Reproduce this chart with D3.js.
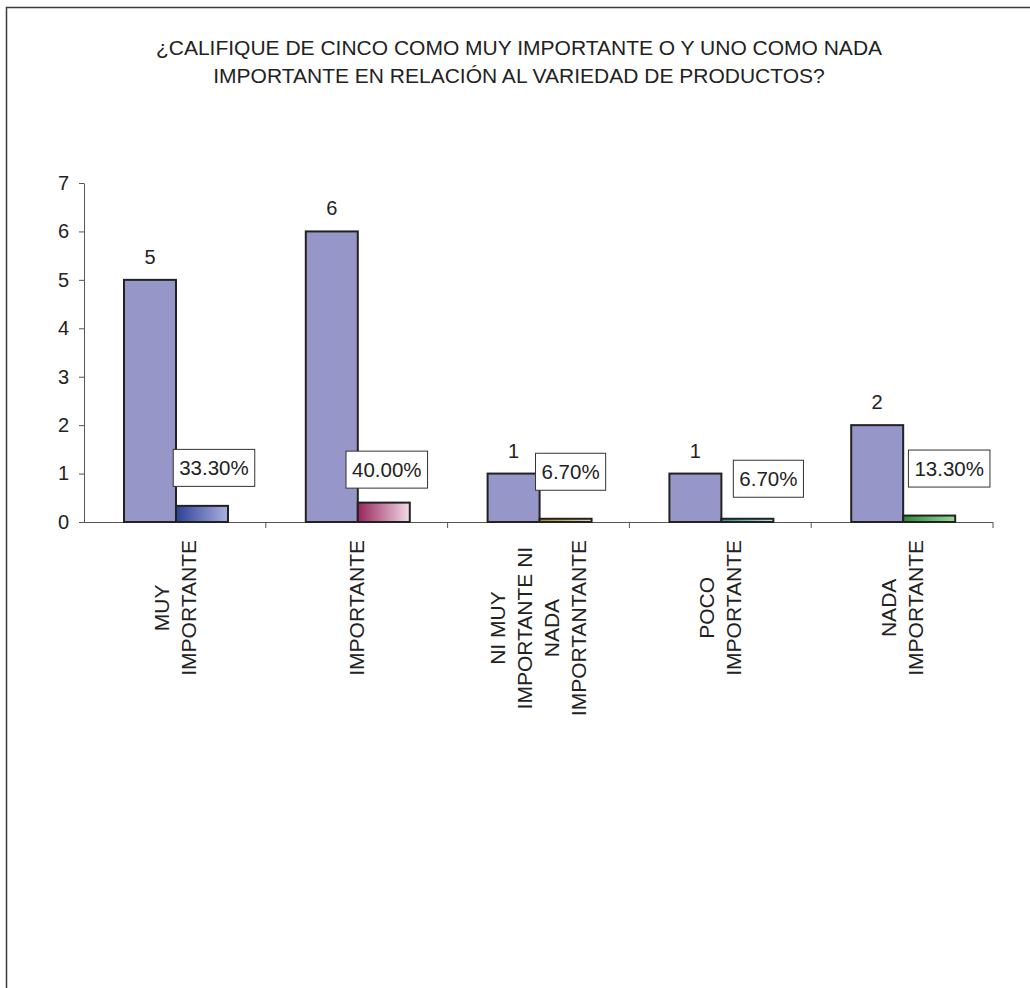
<!DOCTYPE html>
<html><head><meta charset="utf-8">
<script src="https://cdn.jsdelivr.net/npm/d3@7/dist/d3.min.js"></script>
<style>html,body{margin:0;padding:0;background:#fff;}svg{display:block;}</style>
</head><body>
<script>
const titleLines = ["¿CALIFIQUE DE CINCO COMO MUY IMPORTANTE O Y UNO COMO NADA",
                    "IMPORTANTE EN RELACIÓN AL VARIEDAD DE PRODUCTOS?"];
const categories = ["MUY IMPORTANTE","IMPORTANTE","NI MUY IMPORTANTE NI NADA IMPORTANTANTE","POCO IMPORTANTE","NADA IMPORTANTE"];
const categoryLabelLines = [["MUY","IMPORTANTE"],["IMPORTANTE"],["NI MUY","IMPORTANTE NI","NADA","IMPORTANTANTE"],["POCO","IMPORTANTE"],["NADA","IMPORTANTE"]];
const counts = [5, 6, 1, 1, 2];
const shares = [0.333, 0.40, 0.067, 0.067, 0.133];
const shareLabels = ["33.30%","40.00%","6.70%","6.70%","13.30%"];
const yTicks = [0,1,2,3,4,5,6,7];
// styling (not data)
const shareGradients = [["#2f4196","#aab0e0"],["#98245a","#f2dce8"],["#b08a2a","#e8d8a0"],["#2f8f98","#b8e4e8"],["#2a8a3a","#98d898"]];
const shareLabelShift = [[12,-38],[3,-33],[5,-47],[21,-40],[20,-47]];

const W = 1030, H = 988;
const svg = d3.select("body").append("svg").attr("width", W).attr("height", H);
const font = "'Liberation Sans', Arial, sans-serif";

// frame
svg.append("path").attr("d", `M6.5,${H} L6.5,7.5 L${W},7.5`).attr("fill","none").attr("stroke","#3a3a3a").attr("stroke-width",1.5);

// title
svg.append("g").selectAll("text").data(titleLines).join("text")
  .attr("x", 519).attr("y", (d,i)=>55 + i*28)
  .attr("text-anchor","middle").attr("font-family",font).attr("font-size",21).attr("fill","#222")
  .text(d=>d);

const x0 = d3.scaleBand().domain(categories).range([84, 993]).padding(0);
const bw = x0.bandwidth();
const x1 = d3.scaleBand().domain([0,1]).range([bw*0.22, bw*0.22 + bw*0.572]).padding(0);
const y = d3.scaleLinear().domain([0,7]).range([522,183]);

// gradients
const defs = svg.append("defs");
shareGradients.forEach((g,i)=>{
  const lg = defs.append("linearGradient").attr("id","g"+i).attr("x1","0%").attr("x2","100%").attr("y1","0%").attr("y2","0%");
  lg.append("stop").attr("offset","0%").attr("stop-color",g[0]);
  lg.append("stop").attr("offset","100%").attr("stop-color",g[1]);
});

// y axis
const yAxis = d3.axisLeft(y).tickValues(yTicks).tickFormat(d3.format("d")).tickSize(5).tickPadding(10).tickSizeOuter(0);
const ya = svg.append("g").attr("transform","translate(84,0)").call(yAxis);
ya.select(".domain").attr("stroke","#555").attr("stroke-width",1);
ya.selectAll(".tick line").attr("stroke","#555");
ya.selectAll(".tick text").attr("font-family",font).attr("font-size",20).attr("fill","#222");

// x axis
const boundaries = categories.map(c=>x0(c)).concat([x0.range()[1]]);
const xa = svg.append("g");
xa.append("line").attr("x1",84).attr("x2",993).attr("y1",522.5).attr("y2",522.5).attr("stroke","#555");
xa.selectAll("line.t").data(boundaries.slice(1)).join("line").attr("class","t")
  .attr("x1",d=>d).attr("x2",d=>d).attr("y1",522).attr("y2",528).attr("stroke","#555");

const groups = svg.append("g").selectAll("g").data(categories).join("g")
  .attr("transform", c=>`translate(${x0(c)},0)`);

// series 1 bars
groups.append("rect")
  .attr("x", x1(0)).attr("width", x1.bandwidth())
  .attr("y", (c,i)=>y(counts[i])).attr("height",(c,i)=>y(0)-y(counts[i]))
  .attr("fill","#9696c8").attr("stroke","#222").attr("stroke-width",2);

// series 2 bars
groups.append("rect")
  .attr("x", x1(1)).attr("width", x1.bandwidth())
  .attr("y", (c,i)=>y(shares[i])).attr("height",(c,i)=>y(0)-y(shares[i]))
  .attr("fill",(c,i)=>`url(#g${i})`).attr("stroke","#222").attr("stroke-width",2);

// count labels
groups.append("text")
  .attr("x", x1(0)+x1.bandwidth()/2).attr("y",(c,i)=>y(counts[i])-16)
  .attr("text-anchor","middle").attr("font-family",font).attr("font-size",20).attr("fill","#222")
  .text((c,i)=>counts[i]);

// share labels with boxes
groups.each(function(c,i){
  const g = d3.select(this);
  const cx = x1(1)+x1.bandwidth()/2 + shareLabelShift[i][0];
  const cy = y(shares[i]) + shareLabelShift[i][1];
  const t = g.append("text").attr("x",cx).attr("y",cy).attr("dy","0.36em")
    .attr("text-anchor","middle").attr("font-family",font).attr("font-size",20.5).attr("fill","#222")
    .text(shareLabels[i]);
  const w = t.node().getComputedTextLength();
  g.insert("rect","text:last-child")
    .attr("x",cx-w/2-6).attr("y",cy-18.5).attr("width",w+12).attr("height",37)
    .attr("fill","#fff").attr("stroke","#333").attr("stroke-width",1);
  t.raise();
});

// category labels (rotated)
groups.each(function(c,i){
  const lines = categoryLabelLines[i];
  const g = d3.select(this).append("g").attr("transform",`translate(${bw/2},540) rotate(-90)`);
  const texts = g.selectAll("text").data(lines).join("text")
    .attr("y",(d,k)=>(k-(lines.length-1)/2)*27).attr("dy","0.35em")
    .attr("text-anchor","middle").attr("font-family",font).attr("font-size",21).attr("fill","#222")
    .text(d=>d);
  let maxLen = 0;
  texts.each(function(){ maxLen = Math.max(maxLen, this.getComputedTextLength()); });
  texts.attr("x", -maxLen/2);
});
</script>
</body></html>
